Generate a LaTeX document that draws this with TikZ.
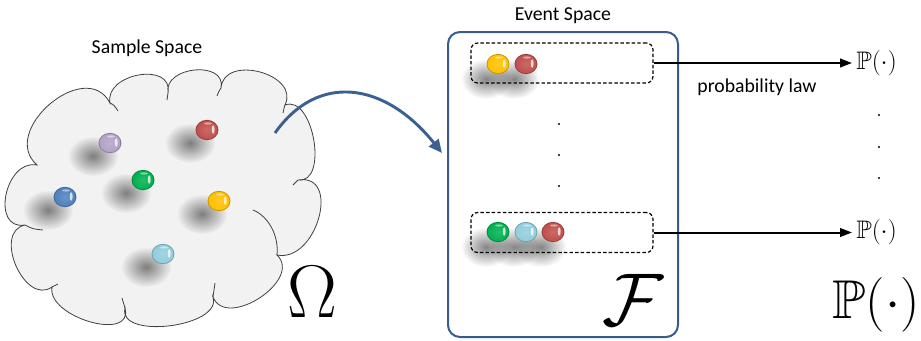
\documentclass[tikz,border=0pt]{standalone}
\usepackage{fix-cm}
\usepackage{amssymb}
\usepackage{fontspec}
\newfontfamily\calibri{Carlito}
\usetikzlibrary{arrows.meta,calc,fadings}

\definecolor{cloudfill}{HTML}{F2F2F2}
\definecolor{cloudline}{HTML}{404040}
\definecolor{frameblue}{HTML}{385D8A}
\definecolor{arrowblue}{HTML}{3B6192}
\definecolor{mlavender}{HTML}{B3A2C7}
\definecolor{mred}{HTML}{C0504D}
\definecolor{mgreen}{HTML}{00B050}
\definecolor{mblue}{HTML}{4F81BD}
\definecolor{myellow}{HTML}{FFC000}
\definecolor{mcyan}{HTML}{92CDDC}

\tikzfading[name=softblob, inner color=transparent!52, outer color=transparent!100]

% a glossy marble with its rim and highlight
\newcommand\drawmarble[2]{%
  \fill[#2!78!black] (#1) ellipse [x radius=8.6pt, y radius=7.6pt];
  \shade[inner color=#2!85!white, outer color=#2] (#1) ellipse [x radius=7.9pt, y radius=6.9pt];
  \fill[white, opacity=0.75] ($(#1)+(6.2,-0.5)$) ellipse [x radius=1.1pt, y radius=3.2pt];
  \fill[white, opacity=0.5] ($(#1)+(1,-6.5)$) ellipse [x radius=3pt, y radius=0.8pt];
}
% a soft blurred shadow
\newcommand\drawblob[1]{%
  \fill[black, path fading=softblob] (#1) ellipse [x radius=19pt, y radius=15pt];
}

\tikzset{
  cloudshape/.style={fill=cloudfill, draw=cloudline, line width=0.6pt},
  cloudtail/.style={draw=cloudline, line width=0.6pt},
  label/.style={font=\calibri\fontsize{14.8}{17}\selectfont, inner sep=0pt},
  eventframe/.style={draw=frameblue, line width=1.5pt, rounded corners=9pt,
    minimum width=172.5pt, minimum height=228.75pt, inner sep=0pt},
  eventset/.style={draw=black, line width=0.9pt, dash pattern=on 2.6pt off 1.6pt,
    rounded corners=5pt, minimum width=136.5pt, minimum height=30pt, inner sep=0pt},
  lawarrow/.style={line width=1.5pt, -{Triangle[length=9pt,width=6.5pt]}},
  maparrow/.style={draw=arrowblue, line width=2.2pt, -{Triangle[length=10pt,width=9pt]}},
  dotmark/.style={fill=black},
  smallP/.style={inner sep=3pt, anchor=west, font=\fontsize{19}{21}\selectfont},
}

\begin{document}
\begin{tikzpicture}[x=0.75pt, y=-0.75pt]
\useasboundingbox (0,0) rectangle (921,340);

% ---------- sample space: the cloud ----------
\coordinate (N1) at (37,165);   \coordinate (P1) at (50,104);
\coordinate (N2) at (110,103);  \coordinate (P2) at (139,75);
\coordinate (N3) at (168,93);   \coordinate (P3) at (195,70);
\coordinate (N4) at (221,88);   \coordinate (P4) at (260,72);
\coordinate (N5) at (285,105);  \coordinate (P5) at (314,140);
\coordinate (N6) at (298,180);  \coordinate (P6) at (319,218);
\coordinate (N7) at (277,255);  \coordinate (P7) at (260,298);
\coordinate (N8) at (213,297);  \coordinate (P8) at (170,326);
\coordinate (N9) at (125,308);  \coordinate (P9) at (90,322);
\coordinate (N10) at (52,287);  \coordinate (P10) at (16,266);
\coordinate (N11) at (25,225);  \coordinate (P11) at (6,195);

\path[cloudshape]
  (N1) .. controls ($0.433*(N1)+1.333*(P1)-0.767*(N2)$) and ($0.433*(N2)+1.333*(P1)-0.767*(N1)$) .. (N2)
       .. controls ($0.433*(N2)+1.333*(P2)-0.767*(N3)$) and ($0.433*(N3)+1.333*(P2)-0.767*(N2)$) .. (N3)
       .. controls ($0.433*(N3)+1.333*(P3)-0.767*(N4)$) and ($0.433*(N4)+1.333*(P3)-0.767*(N3)$) .. (N4)
       .. controls ($0.433*(N4)+1.333*(P4)-0.767*(N5)$) and ($0.433*(N5)+1.333*(P4)-0.767*(N4)$) .. (N5)
       .. controls ($0.433*(N5)+1.333*(P5)-0.767*(N6)$) and ($0.433*(N6)+1.333*(P5)-0.767*(N5)$) .. (N6)
       .. controls ($0.433*(N6)+1.333*(P6)-0.767*(N7)$) and ($0.433*(N7)+1.333*(P6)-0.767*(N6)$) .. (N7)
       .. controls ($0.433*(N7)+1.333*(P7)-0.767*(N8)$) and ($0.433*(N8)+1.333*(P7)-0.767*(N7)$) .. (N8)
       .. controls ($0.433*(N8)+1.333*(P8)-0.767*(N9)$) and ($0.433*(N9)+1.333*(P8)-0.767*(N8)$) .. (N9)
       .. controls ($0.433*(N9)+1.333*(P9)-0.767*(N10)$) and ($0.433*(N10)+1.333*(P9)-0.767*(N9)$) .. (N10)
       .. controls ($0.433*(N10)+1.333*(P10)-0.767*(N11)$) and ($0.433*(N11)+1.333*(P10)-0.767*(N10)$) .. (N11)
       .. controls ($0.433*(N11)+1.333*(P11)-0.767*(N1)$) and ($0.433*(N1)+1.333*(P11)-0.767*(N11)$) .. (N1)
  -- cycle;

% inner ends of the cloud's lobes
\draw[cloudtail] (N2) .. controls (114,105) .. (118,111);
\draw[cloudtail] (N3) .. controls (167,96) .. (167,100);
\draw[cloudtail] (N4) .. controls (219,91) .. (217,96);
\draw[cloudtail] (N5) .. controls (284,108) .. (283,113);
\draw[cloudtail] (N6) .. controls (296,182) .. (293,185);
\draw[cloudtail] (N7) .. controls (279,235) and (268,216) .. (253,210);
\draw[cloudtail] (N8) .. controls (214,290) .. (215,283);
\draw[cloudtail] (N9) .. controls (123,303) .. (122,298);
\draw[cloudtail] (N10) .. controls (55,286) .. (58,284);
\draw[cloudtail] (N11) .. controls (33,229) .. (43,230);

% outcomes with their shadows
\coordinate (o1) at (110,143);
\coordinate (o2) at (207,130);
\coordinate (o3) at (143,180);
\coordinate (o4) at (65,197);
\coordinate (o5) at (219,201);
\coordinate (o6) at (163,254);
\foreach \o in {o1,o2,o3,o4,o5,o6} { \drawblob{$(\o)+(-17,13)$} }
\drawmarble{o1}{mlavender}
\drawmarble{o2}{mred}
\drawmarble{o3}{mgreen}
\drawmarble{o4}{mblue}
\drawmarble{o5}{myellow}
\drawmarble{o6}{mcyan}

\node[label] (samplelabel) at (147,48) {Sample Space};
\node[inner sep=0pt, font=\fontsize{56}{58}\selectfont] (omega) at (312,292) {$\Omega$};

% ---------- event space ----------
\node[eventframe] (space) at (563,184.5) {};
\node[label] (eventlabel) at (563,16) {Event Space};

\node[eventset] (e1) at (562,63) {};
\node[eventset] (e2) at (562,232.5) {};

\coordinate (a1) at (498,64);
\coordinate (a2) at (526,64);
\coordinate (b1) at (498,232);
\coordinate (b2) at (526,232);
\coordinate (b3) at (553,232);
\foreach \o in {a1,a2,b1,b2,b3} { \drawblob{$(\o)+(-12,15)$} }
\drawmarble{a1}{myellow}
\drawmarble{a2}{mred}
\drawmarble{b1}{mgreen}
\drawmarble{b2}{mcyan}
\drawmarble{b3}{mred}

\foreach \yy in {124,155,186} { \fill[dotmark] (559,\yy) circle [radius=0.9pt]; }

\node[inner sep=0pt, font=\fontsize{56}{58}\selectfont] (calF) at (633,300) {$\mathcal{F}$};

% mapping from the sample space to the events
\coordinate (mapstart) at (275,133);
\coordinate (mapend) at (442,153);
\draw[maparrow] (mapstart) .. controls (318,72) and (385,82) .. (mapend);

% ---------- probability law ----------
\node[smallP] (p1) at (852,63) {$\mathbb{P}(\cdot)$};
\node[smallP] (p2) at (852,232.5) {$\mathbb{P}(\cdot)$};
\draw[lawarrow] (e1.east) -- (p1.west);
\draw[lawarrow] (e2.east) -- (p2.west);
\node[label] (lawlabel) at (757,87) {probability law};

\foreach \yy in {115,147,178} { \fill[dotmark] (879,\yy) circle [radius=0.9pt]; }

\node[inner sep=0pt, font=\fontsize{41}{43}\selectfont] (bigP) at (876,305) {$\mathbb{P}(\cdot)$};
\end{tikzpicture}
\end{document}
